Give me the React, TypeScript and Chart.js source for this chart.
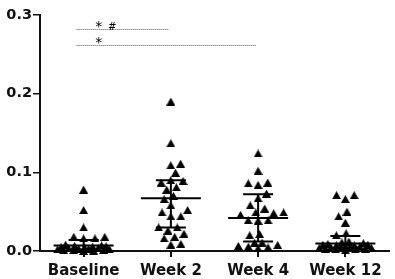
import React, { useEffect, useRef } from "react";
import { Chart, registerables } from "chart.js";

Chart.register(...registerables);

// ---- data ----
const categories = ["Baseline", "Week 2", "Week 4", "Week 12"];

const baselineValues = [
  0.078, 0.052, 0.03, 0.018, 0.018, 0.016, 0.016, 0.008, 0.007, 0.0065, 0.006,
  0.0055, 0.005, 0.0045, 0.004, 0.0035, 0.003, 0.0025, 0.002, 0.002, 0.0015,
  0.001, 0.001, 0.0005, 0.0,
];
const week2Values = [
  0.19, 0.137, 0.111, 0.109, 0.0995, 0.09, 0.089, 0.087, 0.081, 0.078, 0.07,
  0.066, 0.058, 0.052, 0.049, 0.044, 0.044, 0.03, 0.03, 0.026, 0.022, 0.018,
  0.016, 0.009, 0.008,
];
const week4Values = [
  0.124, 0.102, 0.087, 0.086, 0.084, 0.073, 0.067, 0.058, 0.054, 0.049, 0.049,
  0.048, 0.046, 0.039, 0.039, 0.0385, 0.0216, 0.02, 0.0106, 0.0106, 0.0076,
  0.0064, 0.0055, 0.0047, 0.0034,
];
const week12Values = [
  0.071, 0.071, 0.066, 0.05, 0.044, 0.036, 0.0225, 0.02, 0.012, 0.011, 0.01,
  0.009, 0.008, 0.008, 0.007, 0.007, 0.006, 0.006, 0.005, 0.005, 0.005, 0.004,
  0.004, 0.003, 0.003, 0.002, 0.002, 0.001,
];

// centre line and error bar ends per group
const centerValues = [0.007, 0.067, 0.042, 0.0095];
const upperValues = [0.014, 0.09, 0.072, 0.019];
const lowerValues = [0.002, 0.03, 0.012, 0.004];

const yTickValues = [0, 0.1, 0.2, 0.3];
const yTickLabels = ["0.0", "0.1", "0.2", "0.3"];

// significance brackets
const compFrom = [0, 0];
const compTo = [1, 2];
const compLevel = [0.282, 0.262];
const compStar = ["*", "*"];
const compHash = ["#", ""];

const groups = [baselineValues, week2Values, week4Values, week12Values];

function makeTriangle(): HTMLCanvasElement {
  const c = document.createElement("canvas");
  c.width = 9;
  c.height = 8;
  const g = c.getContext("2d")!;
  g.fillStyle = "#000";
  g.beginPath();
  g.moveTo(0, 8);
  g.lineTo(4.5, 0);
  g.lineTo(9, 8);
  g.closePath();
  g.fill();
  return c;
}

// beeswarm: lowest values placed first, nearest free horizontal slot,
// limited to a maximum half-width; when full, the least crowded slot is used.
function swarm(py: number[], w: number, h: number, maxW: number): number[] {
  const order = py.map((_, i) => i).sort((a, b) => py[b] - py[a]);
  const placed: { x: number; y: number }[] = [];
  const out = new Array(py.length).fill(0);
  let side = 1;
  for (const i of order) {
    const y = py[i];
    const near = placed.filter((p) => Math.abs(p.y - y) < h);
    const ivs: [number, number][] = near.map((p) => {
      const dy = p.y - y;
      const half = w * Math.sqrt(1 - (dy * dy) / (h * h));
      return [p.x - half, p.x + half];
    });
    const cands = [0];
    ivs.forEach((iv) => cands.push(iv[0], iv[1]));
    const valid = cands.filter(
      (c) =>
        Math.abs(c) <= maxW &&
        ivs.every((iv) => c <= iv[0] + 1e-6 || c >= iv[1] - 1e-6)
    );
    let x: number;
    if (valid.length) {
      valid.sort(
        (a, b) => Math.abs(a) - Math.abs(b) || (side > 0 ? b - a : a - b)
      );
      x = valid[0];
    } else {
      let best = -1;
      x = 0;
      for (let c = -maxW; c <= maxW + 1e-9; c += 0.5) {
        let score = Infinity;
        for (const p of near) {
          const d = Math.hypot((p.x - c) / w, (p.y - y) / h);
          if (d < score) score = d;
        }
        if (
          score > best + 1e-9 ||
          (Math.abs(score - best) < 1e-9 && Math.abs(c) < Math.abs(x))
        ) {
          best = score;
          x = c;
        }
      }
    }
    if (x !== 0) side = -Math.sign(x);
    out[i] = x;
    placed.push({ x, y });
  }
  return out;
}

const summaryPlugin = {
  id: "summary",
  afterDatasetsDraw(chart: any) {
    const { ctx, scales } = chart;
    const xs = scales.x;
    const ys = scales.y;
    ctx.save();
    ctx.strokeStyle = "#000";
    ctx.lineWidth = 2;
    for (let i = 0; i < categories.length; i++) {
      const cx = xs.getPixelForValue(i);
      const yc = ys.getPixelForValue(centerValues[i]);
      const yu = ys.getPixelForValue(upperValues[i]);
      const yl = ys.getPixelForValue(lowerValues[i]);
      ctx.beginPath();
      ctx.moveTo(cx - 30, yc);
      ctx.lineTo(cx + 30, yc);
      ctx.moveTo(cx, yu);
      ctx.lineTo(cx, yl);
      ctx.moveTo(cx - 15, yu);
      ctx.lineTo(cx + 15, yu);
      ctx.moveTo(cx - 15, yl);
      ctx.lineTo(cx + 15, yl);
      ctx.stroke();
    }
    // brackets
    for (let k = 0; k < compFrom.length; k++) {
      const x0 = xs.getPixelForValue(compFrom[k]) - 7;
      const x1 = xs.getPixelForValue(compTo[k]) - 2;
      const y = Math.round(ys.getPixelForValue(compLevel[k])) + 0.5;
      ctx.save();
      ctx.strokeStyle = "#555";
      ctx.lineWidth = 1;
      ctx.setLineDash([1, 1]);
      ctx.beginPath();
      ctx.moveTo(x0, y);
      ctx.lineTo(x1, y);
      ctx.stroke();
      ctx.restore();
      ctx.fillStyle = "#000";
      ctx.textBaseline = "alphabetic";
      ctx.textAlign = "center";
      ctx.font = '14px "DejaVu Sans"';
      ctx.fillText(compStar[k], x0 + 22, y + 1.5);
      if (compHash[k]) {
        ctx.font = '10px "DejaVu Sans"';
        ctx.fillText(compHash[k], x0 + 35.5, y);
      }
    }
    ctx.restore();
  },
};

export default function App() {
  const ref = useRef<HTMLCanvasElement>(null);
  useEffect(() => {
    document.body.style.margin = "0";
    const tri = makeTriangle();
    const chart = new Chart(ref.current!, {
      type: "scatter",
      data: {
        datasets: groups.map((vals, gi) => ({
          data: vals.map((v) => ({ x: gi, y: v })),
          pointStyle: tri as any,
          pointRadius: 5,
          backgroundColor: "#000",
          borderColor: "#000",
          clip: false as any,
        })),
      },
      options: {
        animation: false,
        responsive: false,
        devicePixelRatio: 1,
        layout: { padding: { top: 15, right: 0, left: 0, bottom: 0 } },
        plugins: { legend: { display: false }, tooltip: { enabled: false } },
        scales: {
          x: {
            type: "linear",
            min: -0.5,
            max: 3.5,
            afterBuildTicks: (s: any) => {
              s.ticks = categories.map((_, i) => ({ value: i }));
            },
            afterFit: (s: any) => {
              s.height = 28;
            },
            border: { display: true, color: "#111", width: 2 },
            grid: {
              drawOnChartArea: false,
              drawTicks: true,
              tickLength: 6,
              color: "#111",
              lineWidth: 2,
            },
            ticks: {
              autoSkip: false,
              maxRotation: 0,
              padding: 5,
              color: "#111",
              font: { family: '"DejaVu Sans"', size: 15, weight: "bold" },
              callback: (v: any) => categories[v as number] ?? "",
            },
          },
          y: {
            type: "linear",
            min: 0,
            max: 0.3,
            afterBuildTicks: (s: any) => {
              s.ticks = yTickValues.map((v) => ({ value: v }));
            },
            afterFit: (s: any) => {
              s.width = 40;
            },
            border: { display: true, color: "#111", width: 2 },
            grid: {
              drawOnChartArea: false,
              drawTicks: true,
              tickLength: 7,
              color: "#111",
              lineWidth: 1.5,
            },
            ticks: {
              padding: 1,
              color: "#111",
              font: { family: '"DejaVu Sans"', size: 14.5, weight: "bold" },
              callback: (v: any) => {
                const i = yTickValues.findIndex((t) => Math.abs(t - v) < 1e-9);
                return i >= 0 ? yTickLabels[i] : "";
              },
            },
          },
        },
      },
      plugins: [summaryPlugin],
    });

    // beeswarm horizontal spreading, computed through the chart's scales
    const xs: any = chart.scales.x;
    const ys: any = chart.scales.y;
    groups.forEach((vals, gi) => {
      const py = vals.map((v) => ys.getPixelForValue(v));
      const offs = swarm(py, 10, 8.5, 26);
      const cx = xs.getPixelForValue(gi);
      (chart.data.datasets[gi] as any).data = vals.map((v, k) => ({
        x: xs.getValueForPixel(cx + offs[k]),
        y: v,
      }));
    });
    chart.update();

    return () => chart.destroy();
  }, []);
  return (
    <canvas
      ref={ref}
      width={395}
      height={279}
      style={{ display: "block", width: 395, height: 279 }}
    />
  );
}
